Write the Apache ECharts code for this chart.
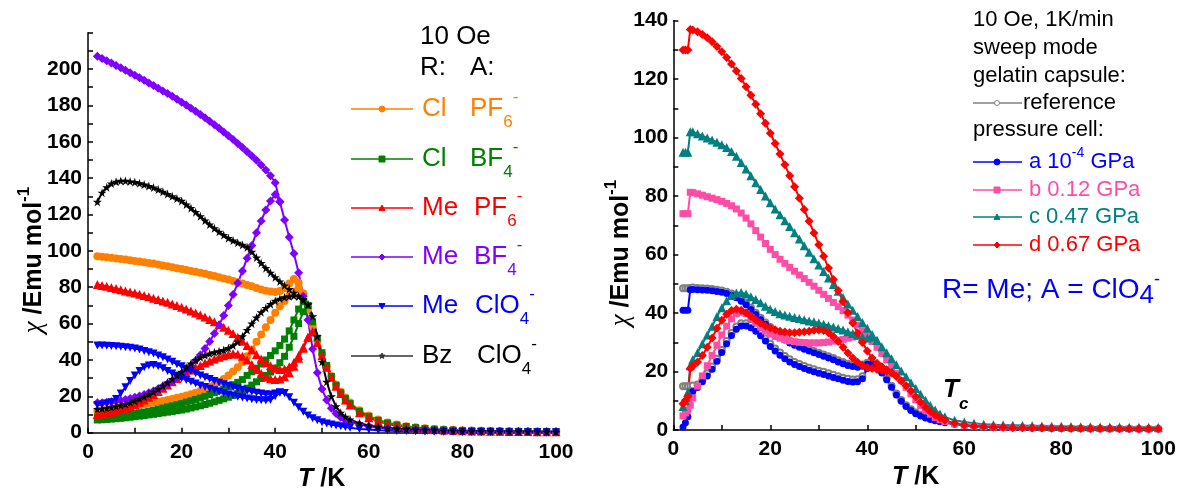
<!DOCTYPE html>
<html><head><meta charset="utf-8">
<script src="https://cdn.jsdelivr.net/npm/echarts@6/dist/echarts.min.js"></script>
<style>html,body{margin:0;padding:0;background:#fff;}#c{width:1183px;height:490px;}</style>
</head><body><div id="c"></div>
<script>
// ---------------- DATA ----------------
const T_LEFT = [2,3,4,5,6,7,8,9,10,11,12,13,14,15,16,17,18,19,20,21,22,23,24,25,26,27,28,29,30,31,32,33,34,35,36,37,38,39,40,41,42,43,44,45,46,47,48,49,50,51,52,53,54,55,56,58,60,62,64,66,68,70,72,74,76,78,80,82,84,86,88,90,92,94,96,98,100];
const T_RIGHT = [2,2.5,3,3.5,4,5,6,7,8,9,10,11,12,13,14,15,16,17,18,19,20,21,22,23,24,25,26,27,28,29,30,31,32,33,34,35,36,37,38,39,40,41,42,43,44,45,46,47,48,49,50,51,52,53,54,55,56,58,60,62,64,66,68,70,72,74,76,78,80,82,84,86,88,90,92,94,96,98,100];

// Left panel: R / A salts (FC = upper branch, ZFC = lower branch)
const ClPF6_FC = [97.0,96.8,96.5,96.2,95.8,95.5,95.2,94.8,94.5,94.1, 93.8,93.4,93.0,92.5,92.0,91.5,91.0,90.5,90.0,89.5, 89.0,88.5,88.0,87.4,86.8,86.2,85.5,84.8,84.2,83.5, 82.8,82.0,81.3,80.5,79.6,78.8,78.1,77.6,77.4,77.9, 79.5,82.0,84.5,82.5,76.5,68.0,59.0,50.5,43.0,36.5, 31.0,26.5,22.5,19.3,16.6, 12.4,9.4,7.2,5.6,4.5,3.6,3.0,2.5,2.1,1.8,1.6,1.4,1.2,1.1,1.0,0.9,0.8,0.75,0.7,0.65,0.6,0.55];
const ClPF6_ZFC = [12.0,12.4,12.8,13.2,13.5,13.9,14.2,14.6,15.0,15.4, 15.8,16.2,16.6,17.0,17.5,18.0,18.6,19.2,19.8,20.5, 21.2,22.0,23.0,24.0,25.2,26.5,28.0,29.6,31.5,33.6, 36.0,38.8,42.0,45.8,50.0,54.0,58.0,62.0,66.0,69.5, 72.5,75.2,77.5,79.5,76.5];
const ClBF4_FC = [8.5,8.6,8.8,9.0,9.2,9.5,9.8,10.1,10.5,11.0, 11.4,11.9,12.4,13.0,13.6,14.2,14.8,15.4,16.0,16.8, 17.5,18.3,19.1,20.0,21.0,22.0,23.0,24.0,25.2,26.4, 27.7,29.2,31.5,33.5,35.5,37.8,40.0,42.5,45.0,48.0, 51.5,56.0,62.0,68.0,72.0,70.0,61.0,52.0,44.0,37.0, 31.0,26.0,22.0,18.8,16.0, 11.8,8.9,6.8,5.3,4.2,3.4,2.8,2.3,1.9,1.6,1.4,1.2,1.1,1.0,0.9,0.8,0.75,0.7,0.65,0.6,0.55,0.5];
const ClBF4_ZFC = [7.0,7.1,7.3,7.5,7.7,7.9,8.2,8.5,8.8,9.1, 9.4,9.8,10.1,10.5,10.9,11.3,11.7,12.1,12.5,13.0, 13.6,14.2,14.8,15.5,16.2,17.0,17.8,18.6,19.5,20.5, 21.7,23.0,24.5,26.2,28.0,29.8,31.5,33.4,35.5,38.5, 42.0,47.0,53.0,60.0,66.5,70.0];
const MePF6_FC = [81.5,81.0,80.5,79.9,79.3,78.6,78.0,77.4,76.8,76.2, 75.5,74.8,74.0,73.3,72.5,71.7,70.8,69.9,69.0,68.0, 67.0,65.9,64.8,63.6,62.3,61.0,59.5,58.0,56.3,54.5, 52.5,50.3,48.0,45.5,43.0,40.6,38.5,36.8,35.5,34.8, 35.0,36.3,38.8,42.5,47.0,52.5,55.5,49.5,42.5,36.0, 30.5,25.5,21.5,18.0,15.2, 11.0,8.2,6.2,4.8,3.8,3.1,2.5,2.1,1.8,1.5,1.3,1.1,1.0,0.9,0.8,0.75,0.7,0.65,0.6,0.55,0.5,0.5];
const MePF6_ZFC = [10.0,10.3,10.8,11.3,12.0,12.7,13.5,14.4,15.5,16.7, 18.0,19.5,21.0,22.7,24.5,26.2,28.0,29.8,31.5,33.0, 34.5,35.8,37.0,38.3,39.5,40.5,41.5,42.3,43.0,43.5, 43.2,42.0,40.0,37.5,34.8,32.5,30.7,29.7,29.3,29.6, 30.8,33.0,36.5,41.0,46.5,52.5,55.5];
const MeBF4_FC = [207.0,205.8,204.6,203.3,202.0,200.7,199.4,198.0,196.6,195.2, 193.8,192.4,190.9,189.5,188.0,186.5,185.0,183.4,181.8,180.2, 178.5,176.8,175.0,173.2,171.3,169.4,167.4,165.4,163.3,161.2, 159.0,156.8,154.5,152.2,149.8,147.3,144.5,141.3,137.5,127.0, 117.0,107.5,98.5,88.0,75.0,62.0,46.0,33.0,24.0,18.0, 13.5,10.5,8.5,7.0,6.0, 4.5,3.5,2.8,2.3,1.9,1.6,1.4,1.2,1.1,1.0,0.9,0.8,0.75,0.7,0.65,0.6,0.55,0.5,0.5,0.45,0.45,0.4];
const MeBF4_ZFC = [16.5,16.5,16.7,17.0,17.3,17.7,18.2,18.8,19.5,20.2, 21.0,22.0,23.0,24.2,25.5,27.0,28.6,30.4,32.4,34.6, 37.0,39.7,42.8,46.3,50.2,54.5,59.2,64.4,70.0,76.0, 82.3,89.0,96.0,103.0,110.0,116.5,122.5,127.5,131.0,127.0];
const MeClO4_FC = [48.0,47.9,47.8,47.7,47.5,47.3,47.0,46.7,46.3,45.7, 45.0,44.3,43.5,42.5,41.5,40.3,39.0,37.7,36.5,35.2, 34.0,32.7,31.5,30.5,29.5,28.5,27.5,26.6,25.8,25.0, 24.3,23.6,23.0,22.5,22.0,21.6,21.2,21.0,21.5,22.3, 21.8,19.5,16.5,14.0,11.5,9.5,8.0,6.8,5.8,5.1, 4.5,4.0,3.5,3.1,2.7, 2.1,1.7,1.4,1.2,1.0,0.9,0.8,0.7,0.6,0.55,0.5,0.45,0.4,0.4,0.35,0.35,0.3,0.3,0.3,0.25,0.25,0.25];
const MeClO4_ZFC = [15.2,15.5,16.0,16.8,18.5,21.5,25.0,28.5,31.5,34.0, 36.0,37.0,37.2,36.6,35.5,34.0,32.6,31.3,30.0,29.0, 28.0,27.0,26.0,25.1,24.2,23.3,22.5,21.7,21.0,20.4, 19.8,19.3,18.8,18.4,18.0,17.8,17.7,18.0,20.0,22.0, 21.8];
const BzClO4_FC = [127.0,132.0,135.0,137.0,138.0,138.5,138.5,138.2,137.8,137.2, 136.5,135.7,134.8,133.7,132.5,131.3,130.0,128.8,127.5,125.5, 123.5,121.3,119.0,116.7,114.5,112.4,110.5,108.7,107.0,105.7, 104.5,103.3,102.0,99.5,96.3,93.3,90.5,88.0,85.5,83.2, 81.0,79.0,77.0,75.0,73.0,70.5,64.0,53.0,39.0,28.0, 20.0,14.5,11.0,8.8,7.2, 5.2,4.0,3.2,2.6,2.2,1.9,1.6,1.4,1.3,1.1,1.0,0.9,0.85,0.8,0.75,0.7,0.65,0.6,0.6,0.55,0.5,0.5];
const BzClO4_ZFC = [13.0,13.2,13.5,14.0,14.5,15.1,15.8,16.6,17.5,18.6, 19.8,21.1,22.5,24.1,25.8,27.6,29.5,31.5,33.5,35.8, 38.0,40.0,41.5,42.6,43.5,44.2,44.8,45.5,46.5,48.0, 50.0,53.0,56.5,60.0,63.3,66.2,68.6,70.7,72.5,73.7, 74.5,75.0,75.3,75.0,73.5,70.5];

// Right panel: R = Me, A = ClO4 under pressure
const ref_FC = [48.5,48.5,48.5,48.6, 48.7,48.6,48.5,48.4,48.2,48.0,47.7,47.3,46.7,45.8, 44.6,43.4,41.8,40.1,38.4,36.8,35.2,33.8,32.5,31.4, 30.4,29.6,28.9,28.2,27.6,27.0,26.4,25.8,25.2,24.6, 23.9,23.3,22.7,22.3,22.1,22.4,23.0,23.1,22.0,20.0, 17.7,15.1,12.5,10.3,8.5,7.1,6.0,5.2,4.5,4.0, 3.5,3.1,2.8];
const ref_ZFC = [15.0,15.0,15.0,15.1, 15.2,15.6,17.3,19.4,21.7,24.4,27.4,30.4,33.2,35.4, 36.5,36.5,35.9,34.7,33.1,31.3,29.5,27.9,26.5,25.3, 24.2,23.3,22.6,21.9,21.3,20.8,20.3,19.9,19.4,18.9, 18.4,17.9,17.5,17.3,17.4,18.4,21.6,22.9,22.2];
const a_FC = [41.0,41.0,41.0,48.0, 48.1,48.0,47.9,47.8,47.6,47.4,47.1,46.7,46.1,45.2, 44.0,42.8,41.2,39.5,37.8,36.2,34.6,33.2,31.9,30.8, 29.8,29.0,28.3,27.6,27.0,26.4,25.8,25.2,24.6,24.0, 23.3,22.7,22.1,21.7,21.5,21.8,22.5,22.6,21.5,19.5, 17.2,14.6,12.0,9.8,8.0,6.7,5.6,4.8,4.1,3.6, 3.2,2.8,2.5, 2.0,1.6,1.3,1.1,1.0,0.9,0.8,0.75,0.7,0.65,0.6,0.55,0.5,0.5,0.45,0.45,0.4,0.4,0.4,0.35,0.35,0.35];
const a_ZFC = [1.0,2.5,4.5,12.5, 13.2,14.5,16.5,18.5,20.8,23.5,26.5,29.5,32.3,34.5, 35.6,35.6,35.0,33.8,32.2,30.4,28.6,27.0,25.6,24.4, 23.3,22.4,21.7,21.0,20.4,19.9,19.4,19.0,18.5,18.0, 17.5,17.0,16.6,16.4,16.5,17.5,21.0,22.3,21.5];
const b_FC = [74.0,74.0,74.0,81.3, 81.2,80.8,80.3,79.8,79.3,78.8,78.2,77.5,76.7,75.6, 74.2,72.5,70.5,68.2,66.0,63.8,61.8,60.0,58.4,57.0, 55.6,54.3,53.0,51.8,50.5,49.2,47.8,46.4,45.0,43.6, 42.2,40.8,39.3,37.6,35.9,34.0,32.2,30.3,28.3,26.2, 24.0,21.7,19.3,17.0,14.6,12.4,10.3,8.4,6.8,5.4, 4.3,3.5,2.9, 2.1,1.6,1.3,1.1,1.0,0.9,0.8,0.75,0.7,0.65,0.6,0.55,0.5,0.5,0.45,0.45,0.4,0.4,0.4,0.35,0.35,0.35];
const b_ZFC = [4.8,5.8,6.8,8.5, 11.0,15.0,18.5,22.0,25.5,29.0,32.5,35.5,38.0,39.8, 40.3,39.8,38.5,36.8,35.2,33.9,32.8,32.0,31.4,30.9, 30.5,30.2,30.0,29.9,29.8,29.8,29.8,29.9,30.1,30.4, 30.7,31.0,31.4,31.8,32.2,32.4,32.2,30.3];
const c_FC = [95.0,95.0,95.0,102.0, 102.0,101.3,100.6,99.9,99.2,98.4,97.6,96.6,95.3,93.6, 91.5,89.3,87.0,84.6,82.3,80.0,77.7,75.6,73.6,71.6, 69.6,67.5,65.3,63.0,60.8,58.6,56.4,54.2,52.0,49.8, 47.5,45.3,43.1,41.0,38.8,36.8,34.8,32.7,30.6,28.5, 26.4,24.4,22.3,20.2,18.2,16.2,14.2,12.2,10.2,8.4, 6.8,5.5,4.5, 3.3,2.7,2.3,2.0,1.8,1.7,1.6,1.5,1.45,1.4,1.3,1.25,1.2,1.15,1.1,1.05,1.0,1.0,0.95,0.95,0.9,0.9];
const c_ZFC = [8.0,10.0,13.0,22.0, 24.0,26.5,29.5,32.5,35.5,38.8,41.8,44.2,46.0,46.9, 47.0,46.5,45.6,44.6,43.5,42.3,41.3,40.5,39.8,39.3, 38.9,38.5,38.1,37.7,37.3,37.0,36.6,36.2,35.7,35.2, 34.7,34.2,33.6,33.0,32.4,31.8,31.5,31.8,30.6];
const d_FC = [130.0,130.0,130.0,137.0, 136.8,136.2,135.3,134.2,132.8,131.2,129.4,127.4,125.2,122.8, 120.2,117.4,114.5,111.4,108.2,104.9,101.5,98.0,94.4,90.7, 87.0,83.2,79.3,75.4,71.4,67.4,63.4,59.4,55.4,51.5, 47.7,43.9,40.2,36.6,33.2,29.9,27.0,24.6,22.8,21.6, 20.6,19.6,18.3,16.8,15.1,13.3,11.4,9.5,7.8,6.3, 5.1,4.1,3.3, 2.3,1.7,1.4,1.2,1.0,0.9,0.8,0.75,0.7,0.65,0.6,0.6,0.55,0.55,0.5,0.5,0.5,0.45,0.45,0.45,0.4,0.4];
const d_ZFC = [9.0,10.2,11.5,21.0, 21.8,23.3,25.5,28.3,31.5,34.8,37.5,39.6,40.9,41.3, 41.0,40.1,38.9,37.6,36.5,35.6,34.9,34.3,33.8,33.5, 33.3,33.3,33.4,33.6,33.8,34.1,34.2,34.0,33.3,32.0, 30.3,28.3,26.3,24.6,23.2,22.1,21.4,21.0,20.7,20.4, 20.0,19.5];

const X_TICKS = [0,20,40,60,80,100];
const Y_LEFT_MAX = 220, Y_RIGHT_MAX = 140;

// ---------------- STYLE / BUILD ----------------
const C = {orange:'#FF8000', green:'#008000', red:'#FF0000', purple:'#8000FF', blue:'#0000FF', black:'#000000',
           gray:'#808080', pink:'#FF4DA6', teal:'#008080'};
const STAR = 'path://M50,0L61,35L98,35L68,57L79,91L50,70L21,91L32,57L2,35L39,35Z';
const DTRI = 'path://M0,0L100,0L50,90Z';

function pairs(T, v){ return v.map((y,i)=>[T[i], y]); }
function S(gi, T, vals, color, symbol, size, extra){
  return Object.assign({type:'line', xAxisIndex:gi, yAxisIndex:gi, data:pairs(T, vals), symbol, symbolSize:size,
    showAllSymbol:true, silent:true, animation:false, lineStyle:{color, width:2}, itemStyle:{color},
    emphasis:{disabled:true}}, extra||{});
}
const series = [
  S(0,T_LEFT,ClPF6_ZFC,C.orange,'circle',8), S(0,T_LEFT,ClPF6_FC,C.orange,'circle',8),
  S(0,T_LEFT,ClBF4_ZFC,C.green,'rect',7), S(0,T_LEFT,ClBF4_FC,C.green,'rect',7),
  S(0,T_LEFT,MePF6_ZFC,C.red,'triangle',9), S(0,T_LEFT,MePF6_FC,C.red,'triangle',9),
  S(0,T_LEFT,MeBF4_ZFC,C.purple,'diamond',9), S(0,T_LEFT,MeBF4_FC,C.purple,'diamond',9),
  S(0,T_LEFT,MeClO4_ZFC,C.blue,DTRI,8), S(0,T_LEFT,MeClO4_FC,C.blue,DTRI,8),
  S(0,T_LEFT,BzClO4_ZFC,C.black,STAR,9), S(0,T_LEFT,BzClO4_FC,C.black,STAR,9),
  S(1,T_RIGHT,ref_ZFC,C.gray,'emptyCircle',6,{itemStyle:{color:C.gray,borderWidth:1}}),
  S(1,T_RIGHT,ref_FC,C.gray,'emptyCircle',6,{itemStyle:{color:C.gray,borderWidth:1}}),
  S(1,T_RIGHT,a_ZFC,C.blue,'circle',7), S(1,T_RIGHT,a_FC,C.blue,'circle',7),
  S(1,T_RIGHT,b_ZFC,C.pink,'rect',7), S(1,T_RIGHT,b_FC,C.pink,'rect',7),
  S(1,T_RIGHT,c_ZFC,C.teal,'triangle',9), S(1,T_RIGHT,c_FC,C.teal,'triangle',9),
  S(1,T_RIGHT,d_ZFC,C.red,'diamond',9), S(1,T_RIGHT,d_FC,C.red,'diamond',9)
];

const FF = '"Liberation Sans", Arial, sans-serif';
const axLine = {show:true, onZero:false, lineStyle:{color:'#000', width:1.5}};
const axTick = {show:true, inside:true, length:5, lineStyle:{color:'#000', width:1.5}};
const minTick = {show:true, splitNumber:2, length:5, lineStyle:{color:'#000', width:1.5}};
function mkX(gi){ return {type:'value', gridIndex:gi, min:X_TICKS[0], max:X_TICKS[X_TICKS.length-1], interval:X_TICKS[1]-X_TICKS[0],
  axisLine:axLine, axisTick:axTick, minorTick:minTick, splitLine:{show:false}, minorSplitLine:{show:false},
  axisLabel:{color:'#000', fontSize:21, fontWeight:'bold', fontFamily:FF, margin:9}}; }
function mkY(gi, max, margin){ return {type:'value', gridIndex:gi, min:0, max, interval:20,
  axisLine:axLine, axisTick:axTick, minorTick:minTick, splitLine:{show:false}, minorSplitLine:{show:false},
  axisLabel:{color:'#000', fontSize:21, fontWeight:'bold', fontFamily:FF, margin, formatter:v=> (gi===0 && v===max) ? '' : String(v)}}; }

// ---- text helpers (graphic) ----
const mctx = document.createElement('canvas').getContext('2d');
function fnt(p){ return (p.it?'italic ':'') + (p.b?'bold ':'') + p.s + 'px ' + (p.ff||FF); }
function txt(x,y,t,p,color){ return {type:'text', x, y, silent:true, z:100,
  style:{text:t, font:fnt(p), fontSize:p.s, fontFamily:p.ff||FF, fontWeight:p.b?'bold':'normal', fontStyle:p.it?'italic':'normal',
    fill:color, align:'left', verticalAlign:'middle', textAlign:'left', textVerticalAlign:'middle'}}; }
function runs(parts, x0, y0, color){ const out=[]; let x=x0;
  parts.forEach(p=>{ if(p.x!=null) x=p.x; mctx.font=fnt(p); const w=mctx.measureText(p.t).width;
    out.push(txt(x, y0+(p.dy||0), p.t, p, p.c||color)); x+=w; });
  return {out, w:x-x0}; }
function rotTitle(cx, cy, parts){ const r=runs(parts,0,0,'#000'); r.out.forEach(e=>{ e.x -= r.w/2; });
  return {type:'group', x:cx, y:cy, rotation:Math.PI/2, silent:true, children:r.out}; }
function marker(kind, cx, cy, r, color){
  const st={fill:color, stroke:color, lineWidth:1};
  const poly=pts=>({type:'polygon', z:100, silent:true, shape:{points:pts}, style:st});
  if(kind==='circle') return {type:'circle', z:100, silent:true, shape:{cx,cy,r}, style:st};
  if(kind==='empty') return {type:'circle', z:100, silent:true, shape:{cx,cy,r}, style:{fill:'#fff', stroke:color, lineWidth:1}};
  if(kind==='rect') return {type:'rect', z:100, silent:true, shape:{x:cx-r,y:cy-r,width:2*r,height:2*r}, style:st};
  if(kind==='tri') return poly([[cx,cy-r],[cx+r,cy+r*0.8],[cx-r,cy+r*0.8]]);
  if(kind==='dtri') return poly([[cx-r,cy-r*0.8],[cx+r,cy-r*0.8],[cx,cy+r]]);
  if(kind==='diamond') return poly([[cx,cy-r],[cx+r,cy],[cx,cy+r],[cx-r,cy]]);
  const pts=[]; for(let i=0;i<10;i++){ const a=-Math.PI/2+i*Math.PI/5, rr=i%2?r*0.45:r; pts.push([cx+rr*Math.cos(a), cy+rr*Math.sin(a)]); }
  return poly(pts);
}
function lline(x1,x2,y,color){ return {type:'line', z:100, silent:true, shape:{x1,y1:y,x2,y2:y}, style:{stroke:color, lineWidth:1.5}}; }

const G = [];
// axis titles
G.push(...runs([{t:'T',s:25,b:true,it:true},{t:' /K',s:25,b:true}], 298, 479, '#000').out);
G.push(...runs([{t:'T',s:25,b:true,it:true},{t:' /K',s:25,b:true}], 892, 477, '#000').out);
const yTitle = [{t:'χ',s:27,it:true,ff:'"Liberation Serif", serif'},{t:' /Emu mol',s:25,b:true},{t:'-1',s:17,b:true,dy:-10}];
G.push(rotTitle(34, 260, yTitle));
G.push(rotTitle(621, 253, yTitle));

// left legend
G.push(...runs([{t:'10 Oe',s:26}], 420, 37, '#000').out);
G.push(...runs([{t:'R:',s:26},{t:'A:',s:26,x:470}], 420, 68, '#000').out);
const LROWS = [
  {y:109, c:C.orange, m:'circle', r:'Cl', a:'PF', n:'6', ax:470},
  {y:159, c:C.green, m:'rect', r:'Cl', a:'BF', n:'4', ax:470},
  {y:208, c:C.red, m:'tri', r:'Me', a:'PF', n:'6', ax:474},
  {y:257, c:C.purple, m:'diamond', r:'Me', a:'BF', n:'4', ax:474},
  {y:306, c:C.blue, m:'dtri', r:'Me', a:'ClO', n:'4', ax:475},
  {y:356, c:C.black, m:'star', r:'Bz', a:'ClO', n:'4', ax:477, lc:'#333'}
];
LROWS.forEach(o=>{
  G.push(lline(351,413,o.y,o.lc||o.c));
  G.push(marker(o.m, 382, o.y, 3, o.lc||o.c));
  G.push(...runs([{t:o.r,s:26},{t:o.a,s:26,x:o.ax},{t:o.n,s:17,dy:13},{t:'-',s:17,dy:-12}], 422, o.y, o.c).out);
});

// right legend
[['10 Oe, 1K/min',20],['sweep mode',48],['gelatin capsule:',76],['pressure cell:',130]].forEach(([t,y])=>{
  G.push(...runs([{t,s:22}], 973, y, '#000').out);
});
G.push(lline(973,1022,103,C.gray)); G.push(marker('empty',997,103,2.5,C.gray));
G.push(...runs([{t:'reference',s:22}], 1023, 103, '#000').out);
const RROWS = [
  {y:162, c:C.blue, m:'circle', parts:[{t:'a 10',s:22},{t:'-4',s:14,dy:-9},{t:' GPa',s:22}]},
  {y:190, c:C.pink, m:'rect', parts:[{t:'b 0.12 GPa',s:22}]},
  {y:217, c:C.teal, m:'tri', parts:[{t:'c 0.47 GPa',s:22}]},
  {y:245, c:C.red, m:'diamond', parts:[{t:'d 0.67 GPa',s:22}]}
];
RROWS.forEach(o=>{
  G.push(lline(973,1022,o.y,o.c)); G.push(marker(o.m,997,o.y,3,o.c));
  G.push(...runs(o.parts, 1029, o.y, o.c).out);
});
G.push(...runs([{t:'R= Me; A = ClO',s:28},{t:'4',s:26,dy:6},{t:'-',s:18,dy:-10}], 942, 290, C.blue).out);
// Tc label
G.push(...runs([{t:'T',s:26,b:true,it:true},{t:'c',s:17,b:true,it:true,dy:14}], 943, 390, '#000').out);

const option = {
  animation:false,
  backgroundColor:'#fff',
  grid:[{left:88, top:32.7, width:468, height:400, containLabel:false, outerBoundsMode:'none'},
        {left:673.3, top:20.7, width:485, height:409.3, containLabel:false, outerBoundsMode:'none'}],
  xAxis:[mkX(0), mkX(1)],
  yAxis:[mkY(0, Y_LEFT_MAX, 6), mkY(1, Y_RIGHT_MAX, 5)],
  series,
  graphic:G
};
const chart = echarts.init(document.getElementById('c'), null, {renderer:'canvas'});
chart.setOption(option);
</script>
</body></html>
